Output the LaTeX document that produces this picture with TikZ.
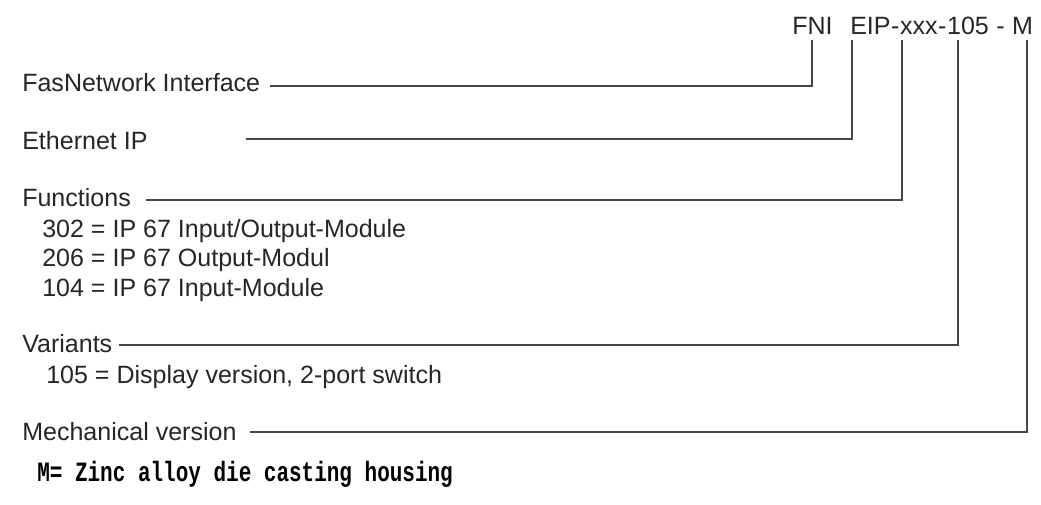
\documentclass[tikz,border=0pt]{standalone}
\usepackage{fontspec}
\setmainfont{Liberation Sans}
\newfontfamily\housingfont{Liberation Mono}[FakeStretch=0.75]
\usepackage{tikz}

\tikzset{
	lbl/.style={anchor=base west, inner sep=0pt, text=black!85, font=\fontsize{17.8}{20}\selectfont},
	code/.style={lbl, inner ysep=3.5pt},
	lead/.style={line width=1.3pt, black!72},
}

\begin{document}
\begin{tikzpicture}[x=0.025cm, y=-0.025cm]
	\useasboundingbox (0,0) rectangle (1041,505);

	% order code
	\node[code] (fni) at (792,35) {FNI};
	\node[code] (eip) at (850,35) {EIP};
	\node[code] (d1) at (eip.base east) {-};
	\node[code] (xxx) at (d1.base east) {xxx};
	\node[code] (d2) at (xxx.base east) {-};
	\node[code] (ver) at (d2.base east) {105};
	\node[code] (d3) at (ver.base east) {\ -\ \null};
	\node[code] (mech) at (d3.base east) {M};

	% labels
	\node[lbl] (fas) at (22,92) {FasNetwork Interface};
	\node[lbl] (eth) at (22,150) {Ethernet IP};
	\node[lbl] (fun) at (22,207) {Functions};
	\node[lbl] (f302) at (42,238) {302 = IP 67 Input/Output-Module};
	\node[lbl] (f206) at (42,267) {206 = IP 67 Output-Modul};
	\node[lbl] (f104) at (42,297) {104 = IP 67 Input-Module};
	\node[lbl] (var) at (22,352) {Variants};
	\node[lbl] (v105) at (46,384) {105 = Display version, 2-port switch};
	\node[lbl] (mv) at (22,440) {Mechanical version};
	\node[lbl, text=black, font=\housingfont\bfseries\fontsize{19.9}{22}\selectfont] (mzinc) at (37,481) {M= Zinc alloy die casting housing};

	% leader ends
	\coordinate (fasend) at (270,86);
	\coordinate (ethend) at (246,139);
	\coordinate (funend) at (146,200);
	\coordinate (varend) at (119,345);
	\coordinate (mvend) at (250,432);

	\foreach \top/\x/\e in {fni/812/fasend, eip/852/ethend, xxx/902/funend, ver/958/varend, mech/1027/mvend}
	\draw[lead] (\x,0 |- \top.south) |- (\e);
\end{tikzpicture}
\end{document}
